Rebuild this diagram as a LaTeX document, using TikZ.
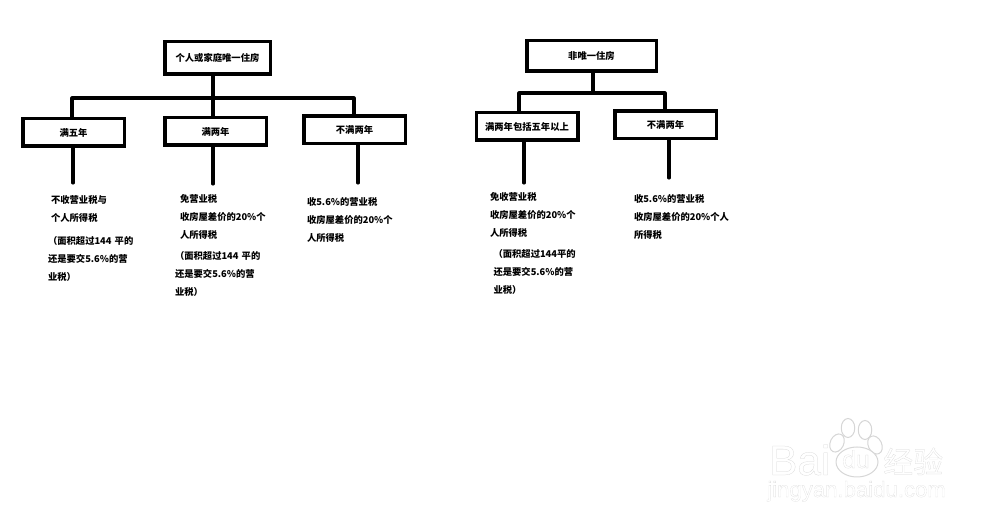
\documentclass[tikz,border=0pt]{standalone}
\usepackage{fontspec}
\setmainfont{Liberation Sans}
\newfontfamily\cjk{Noto Sans CJK SC}
\newfontfamily\wmfont{Liberation Sans}[FakeBold=0.6]
\newfontfamily\wmcjk{Noto Sans CJK SC}[FakeBold=0.6]
\usetikzlibrary{shapes, positioning}
\newcommand{\hollowtext}[1]{\special{pdf:code 1 1 1 rg 0.84 0.84 0.84 RG}#1\special{pdf:code 0 0 0 rg 0 0 0 RG}}
\tikzstyle{smallbox} = [rectangle, minimum width=2.03cm, minimum height=0.55cm, text centered, draw=black, line width=0.7mm, font=\cjk\bfseries\fontsize{5.3}{6}\selectfont, inner sep=0pt]
\tikzstyle{rootbox} = [smallbox, minimum width=2.11cm, minimum height=0.65cm]
\tikzstyle{detail} = [rectangle, text width=2cm, align=left, inner sep=0pt, font=\cjk\bfseries\fontsize{5.3}{10.24}\selectfont]
\tikzstyle{link} = [line width=0.62mm, draw=black, line cap=round, line join=round]
\tikzstyle{paw} = [ellipse, draw=black!16, fill=white, line width=0.2mm, inner sep=0pt]
\begin{document}
\begin{tikzpicture}[node distance=1cm]
\useasboundingbox (0,0) rectangle (20,-10.52);
% left tree
\node (root1) [rootbox] at (4.35,-1.16) {个人或家庭唯一住房};
\node (five1) [smallbox, below of=root1, xshift=-2.88cm, yshift=-0.49cm] {满五年};
\node (two1) [smallbox, below of=root1, xshift=-0.04cm, yshift=-0.47cm] {满两年};
\node (less1) [smallbox, below of=root1, xshift=2.74cm, yshift=-0.44cm] {不满两年};
\node (txt1a) [detail, below of=five1, xshift=0.55cm, yshift=-0.53cm] {不收营业税与\\个人所得税};
\node (txt1b) [detail, below of=five1, xshift=0.49cm, yshift=-1.53cm] {（面积超过144 平的\\还是要交5.6\%的营\\业税）};
\node (txt2a) [detail, below of=two1, xshift=0.29cm, yshift=-0.71cm] {免营业税\\收房屋差价的20\%个\\人所得税};
\node (txt2b) [detail, below of=two1, xshift=0.19cm, yshift=-1.85cm] {（面积超过144 平的\\还是要交5.6\%的营\\业税）};
\node (txt3) [detail, below of=less1, xshift=0.05cm, yshift=-0.8cm] {收5.6\%的营业税\\收房屋差价的20\%个\\人所得税};
\coordinate (bus1l) at (1.44,-1.96);
\coordinate (bus1m) at (4.26,-1.96);
\coordinate (bus1r) at (7.08,-1.96);
\coordinate (end1) at (1.46,-3.66);
\coordinate (end2) at (4.26,-3.68);
\coordinate (end3) at (7.16,-3.66);
\draw[link] (root1.south -| bus1m) -- (bus1m);
\draw[link] (bus1l |- five1.north) -- (bus1l) -- (bus1r) -- (bus1r |- less1.north);
\draw[link] (bus1m) -- (bus1m |- two1.north);
\draw[link] (five1.south -| end1) -- (end1);
\draw[link] (two1.south -| end2) -- (end2);
\draw[link] (less1.south -| end3) -- (end3);
% right tree
\node (root2) [rootbox, minimum width=2.59cm, minimum height=0.61cm] at (11.83,-1.12) {非唯一住房};
\node (two2) [smallbox, below of=root2, xshift=-1.29cm, yshift=-0.41cm] {满两年包括五年以上};
\node (less2) [smallbox, below of=root2, xshift=1.48cm, yshift=-0.38cm] {不满两年};
\node (txt4a) [detail, below of=two2, xshift=0.26cm, yshift=-0.77cm] {免收营业税\\收房屋差价的20\%个\\人所得税};
\node (txt4b) [detail, below of=two2, xshift=0.33cm, yshift=-1.91cm] {（面积超过144平的\\还是要交5.6\%的营\\业税）};
\node (txt5) [detail, below of=less2, xshift=0.37cm, yshift=-0.84cm] {收5.6\%的营业税\\收房屋差价的20\%个人\\所得税};
\coordinate (bus2l) at (10.38,-1.86);
\coordinate (bus2m) at (11.86,-1.86);
\coordinate (bus2r) at (13.3,-1.86);
\coordinate (end4) at (10.48,-3.66);
\coordinate (end5) at (13.38,-3.56);
\draw[link] (root2.south -| bus2m) -- (bus2m);
\draw[link] (bus2l |- two2.north) -- (bus2l) -- (bus2r) -- (bus2r |- less2.north);
\draw[link] (two2.south -| end4) -- (end4);
\draw[link] (less2.south -| end5) -- (end5);
% watermark
\node (pawa) [paw, minimum width=0.27cm, minimum height=0.38cm] at (16.96,-8.56) {};
\node (pawb) [paw, minimum width=0.27cm, minimum height=0.38cm] at (17.3,-8.6) {};
\node (pawc) [paw, minimum width=0.27cm, minimum height=0.38cm, rotate=-25] at (16.74,-8.86) {};
\node (pawd) [paw, minimum width=0.27cm, minimum height=0.38cm, rotate=25] at (17.5,-8.9) {};
\node (pawe) [paw, minimum width=0.84cm, minimum height=0.6cm] at (17.14,-9.24) {};
\node (wmbai) [inner sep=0pt, anchor=base west] at (15.38,-9.5) {\fontsize{24}{24}\wmfont\hollowtext{Bai}};
\node (wmdu) [inner sep=0pt, anchor=base] at (17.12,-9.36) {\fontsize{14}{14}\wmfont\hollowtext{du}};
\node (wmjing) [inner sep=0pt, anchor=base west] at (17.66,-9.46) {\fontsize{17}{17}\wmcjk\hollowtext{经验}};
\node (wmurl) [inner sep=0pt, anchor=base west] at (15.34,-9.94) {\fontsize{12.6}{13}\wmfont\hollowtext{jingyan.baidu.com}};
\end{tikzpicture}
\end{document}
